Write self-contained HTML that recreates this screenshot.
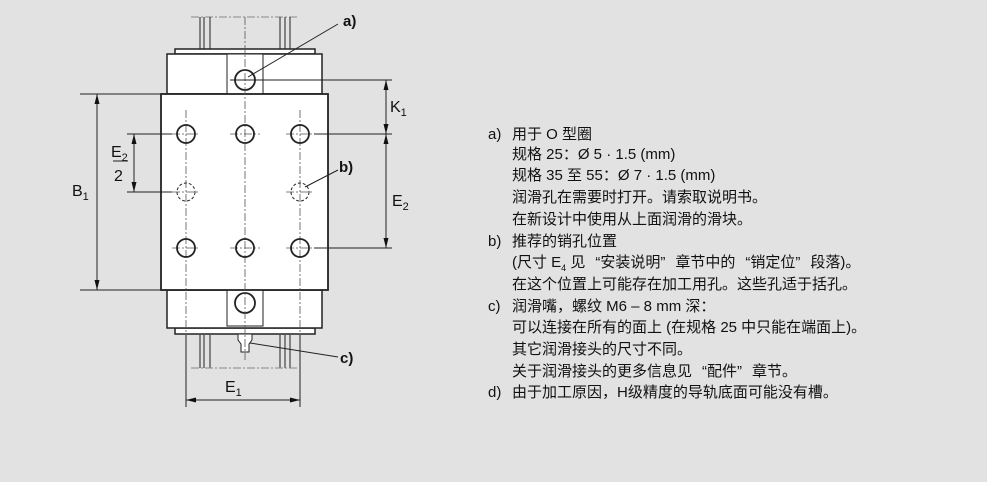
<!DOCTYPE html>
<html><head><meta charset="utf-8"><style>
body{margin:0;width:1000px;height:496px;background:#fff;position:relative;overflow:hidden;font-family:"Liberation Sans","Noto Sans CJK SC",sans-serif;}
#bg{position:absolute;left:0;top:0;width:987px;height:482px;background:#e2e2e2;}
.t{position:absolute;font-size:15px;line-height:16px;color:#111;white-space:nowrap;}
.o{display:inline-block;width:15px;text-align:right;}
.c{display:inline-block;width:15px;text-align:left;}
</style></head><body>
<div id="bg"></div>
<svg style="position:absolute;left:0;top:0" width="1000" height="496" viewBox="0 0 1000 496">
<defs><marker id="ar" markerWidth="10" markerHeight="8" refX="10" refY="4" orient="auto-start-reverse" markerUnits="userSpaceOnUse"><path d="M0,1.5 L10,4 L0,6.5z" fill="#111"/></marker></defs>
<g stroke="#222" fill="none" stroke-width="1">
<line x1="191" y1="17" x2="298" y2="17" stroke-dasharray="8,2,2,2" stroke="#888"/>
<line x1="200" y1="17" x2="200" y2="50"/><line x1="204" y1="17" x2="204" y2="50"/><line x1="210" y1="17" x2="210" y2="50"/>
<line x1="280" y1="17" x2="280" y2="50"/><line x1="285" y1="17" x2="285" y2="50"/><line x1="290" y1="17" x2="290" y2="50"/>
<line x1="200" y1="335" x2="200" y2="368"/><line x1="204" y1="335" x2="204" y2="368"/><line x1="210" y1="335" x2="210" y2="368"/>
<line x1="280" y1="335" x2="280" y2="368"/><line x1="285" y1="335" x2="285" y2="368"/><line x1="290" y1="335" x2="290" y2="368"/>
<line x1="191" y1="368" x2="298" y2="368" stroke-dasharray="8,2,2,2" stroke="#888"/>
<rect x="175" y="49" width="140" height="5" fill="#fff" stroke-width="1.5"/>
<rect x="175" y="328" width="140" height="6" fill="#fff" stroke-width="1.5"/>
<rect x="167" y="54" width="155" height="40" fill="#fff" stroke-width="1.5"/>
<rect x="167" y="290" width="155" height="38" fill="#fff" stroke-width="1.5"/>
<rect x="227" y="54" width="36" height="40" fill="#fff"/>
<rect x="227" y="290" width="36" height="36" fill="#fff"/>
<circle cx="245" cy="80" r="10" stroke-width="1.8"/>
<circle cx="245" cy="303" r="10" stroke-width="1.8"/>
<rect x="161" y="94" width="167" height="196" fill="#fff" stroke-width="1.8"/>
<path d="M238,334 h14 v6 l-3,4 v8 h-8 v-8 l-3,-4z" fill="#fff"/>
<g stroke="#555" stroke-dasharray="8,2,2,2" stroke-width="0.8">
<line x1="245" y1="17" x2="245" y2="360"/>
<line x1="186" y1="110" x2="186" y2="335"/>
<line x1="300" y1="110" x2="300" y2="335"/>
<line x1="172" y1="134" x2="200" y2="134"/><line x1="230" y1="134" x2="260" y2="134"/><line x1="286" y1="134" x2="314" y2="134"/>
<line x1="172" y1="192" x2="200" y2="192"/><line x1="286" y1="192" x2="314" y2="192"/>
<line x1="172" y1="248" x2="200" y2="248"/><line x1="230" y1="248" x2="260" y2="248"/><line x1="286" y1="248" x2="314" y2="248"/>
</g>
<g stroke-width="1.8">
<circle cx="186" cy="134" r="9"/><circle cx="245" cy="134" r="9"/><circle cx="300" cy="134" r="9"/>
<circle cx="186" cy="248" r="9"/><circle cx="245" cy="248" r="9"/><circle cx="300" cy="248" r="9"/>
</g>
<circle cx="186" cy="192" r="9" stroke-dasharray="3,2"/><circle cx="300" cy="192" r="9" stroke-dasharray="3,2"/>
<line x1="230" y1="80" x2="392" y2="80"/>
<line x1="314" y1="134" x2="392" y2="134"/>
<line x1="314" y1="248" x2="392" y2="248"/>
<line x1="386" y1="80" x2="386" y2="134" marker-start="url(#ar)" marker-end="url(#ar)"/>
<line x1="386" y1="134" x2="386" y2="248" marker-start="url(#ar)" marker-end="url(#ar)"/>
<line x1="80" y1="94" x2="161" y2="94"/><line x1="80" y1="290" x2="161" y2="290"/>
<line x1="97" y1="94" x2="97" y2="290" marker-start="url(#ar)" marker-end="url(#ar)"/>
<line x1="127" y1="134" x2="172" y2="134"/><line x1="127" y1="192" x2="172" y2="192"/>
<line x1="134" y1="134" x2="134" y2="192" marker-start="url(#ar)" marker-end="url(#ar)"/>
<line x1="113" y1="161" x2="128" y2="161"/>
<line x1="186" y1="335" x2="186" y2="407"/><line x1="300" y1="335" x2="300" y2="407"/>
<line x1="186" y1="400" x2="300" y2="400" marker-start="url(#ar)" marker-end="url(#ar)"/>
<line x1="248" y1="77" x2="338" y2="24"/>
<line x1="305" y1="187" x2="338" y2="170"/>
<line x1="250" y1="343" x2="338" y2="357"/>
</g>
<g font-family="Liberation Sans, sans-serif" fill="#111">
<text x="343" y="26" font-size="15" font-weight="bold">a)</text>
<text x="339" y="172" font-size="15" font-weight="bold">b)</text>
<text x="340" y="363" font-size="15" font-weight="bold">c)</text>
<text x="390" y="112" font-size="16">K<tspan font-size="11" dy="4">1</tspan></text>
<text x="392" y="206" font-size="16">E<tspan font-size="11" dy="4">2</tspan></text>
<text x="72" y="196" font-size="16">B<tspan font-size="11" dy="4">1</tspan></text>
<text x="111" y="157" font-size="16">E<tspan font-size="11" dy="4">2</tspan></text>
<text x="114" y="181" font-size="16">2</text>
<text x="225" y="392" font-size="16">E<tspan font-size="11" dy="4">1</tspan></text>
</g>
</svg>
<div class="t" style="left:488px;top:127px">a)</div><div class="t" style="left:512px;top:127px">用于 O 型圈</div>
<div class="t" style="left:512px;top:147px">规格 25：Ø 5 · 1.5 (mm)</div>
<div class="t" style="left:512px;top:168px">规格 35 至 55：Ø 7 · 1.5 (mm)</div>
<div class="t" style="left:512px;top:190px">润滑孔在需要时打开。请索取说明书。</div>
<div class="t" style="left:512px;top:212px">在新设计中使用从上面润滑的滑块。</div>
<div class="t" style="left:488px;top:234px">b)</div><div class="t" style="left:512px;top:234px">推荐的销孔位置</div>
<div class="t" style="left:512px;top:255px">(尺寸 E<sub style="font-size:9px;line-height:0">4</sub> 见<span class="o">“</span>安装说明<span class="c">”</span>章节中的<span class="o">“</span>销定位<span class="c">”</span>段落)。</div>
<div class="t" style="left:512px;top:277px">在这个位置上可能存在加工用孔。这些孔适于括孔。</div>
<div class="t" style="left:488px;top:299px">c)</div><div class="t" style="left:512px;top:299px">润滑嘴，螺纹 M6 – 8 mm 深：</div>
<div class="t" style="left:512px;top:320px">可以连接在所有的面上 (在规格 25 中只能在端面上)。</div>
<div class="t" style="left:512px;top:342px">其它润滑接头的尺寸不同。</div>
<div class="t" style="left:512px;top:364px">关于润滑接头的更多信息见<span class="o">“</span>配件<span class="c">”</span>章节。</div>
<div class="t" style="left:488px;top:385px">d)</div><div class="t" style="left:512px;top:385px">由于加工原因，H级精度的导轨底面可能没有槽。</div>
</body></html>
